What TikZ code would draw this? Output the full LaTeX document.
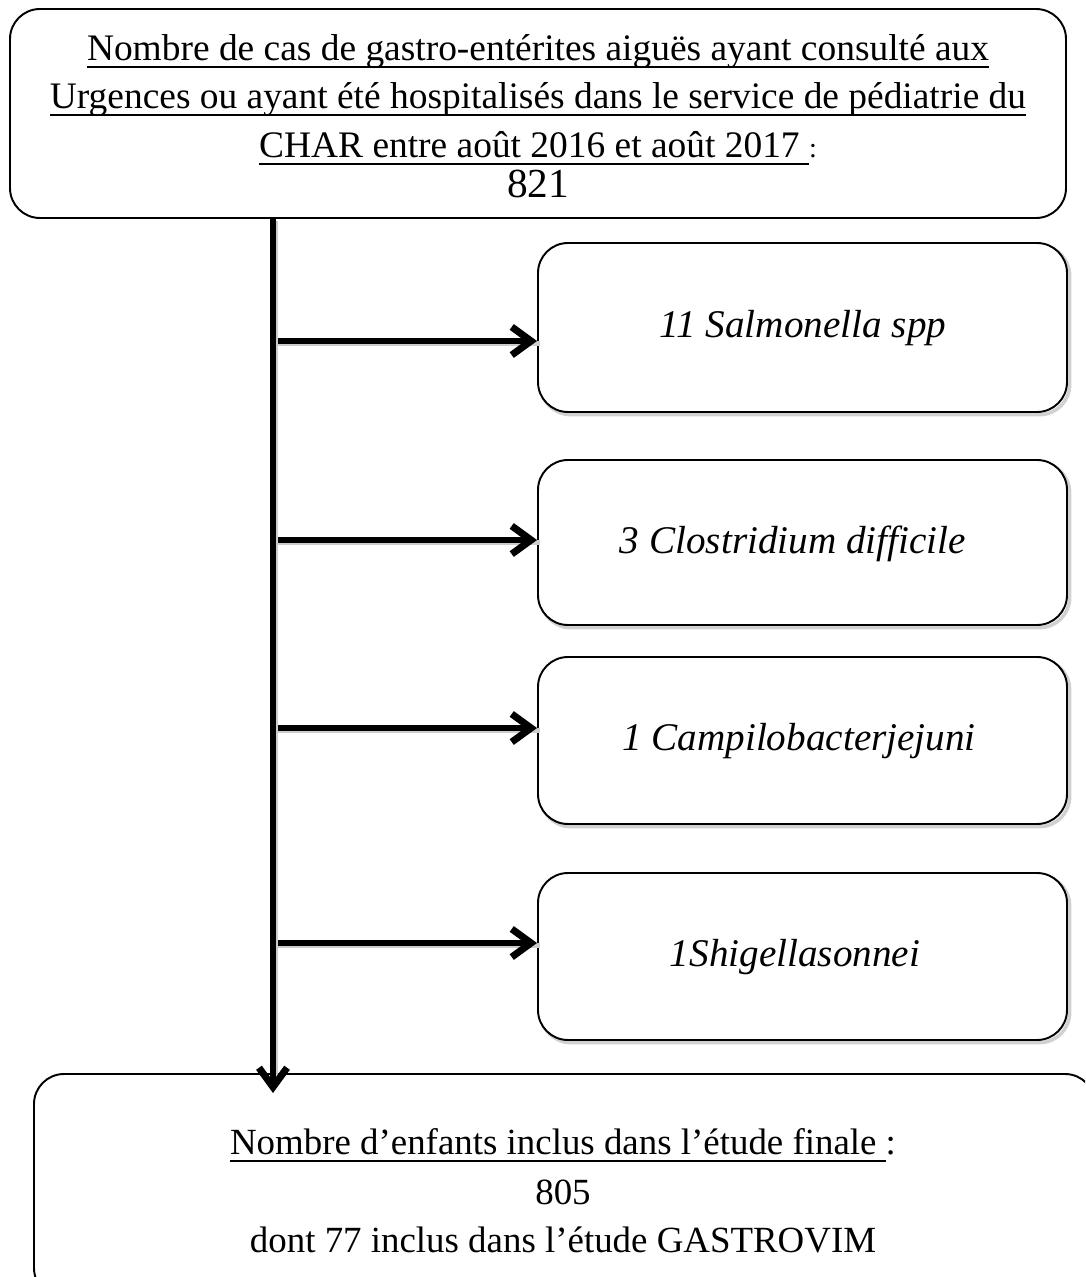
\documentclass[tikz,border=0pt]{standalone}
\usepackage{fontspec}
\setmainfont{Liberation Serif}
\newsavebox{\myulbox}
\newcommand\myul[1]{\sbox{\myulbox}{#1}\rlap{\rule[-4pt]{\wd\myulbox}{1.1pt}}\usebox{\myulbox}}
\usetikzlibrary{arrows.meta,calc}
\begin{document}
\begin{tikzpicture}[x=0.02cm,y=-0.02cm,
  box/.style={draw=black, line width=1.1pt, rounded corners=0.6cm, fill=white, align=center, inner sep=0pt},
  shadowbox/.style={box, preaction={draw=black!18, line width=2pt, transform canvas={shift={(1.5pt,-1.5pt)}}}},
  flow/.style={line width=3pt, -{Straight Barb[length=11pt,width=16pt,line width=1pt 1]}},
  flowsh/.style={draw=black!20, line width=3pt, transform canvas={shift={(1.5pt,-1.5pt)}}},
  txt/.style={font=\fontsize{21.3}{27}\selectfont},
  btxt/.style={font=\fontsize{21}{27}\selectfont},
  itx/.style={font=\fontsize{22.3}{27}\selectfont\itshape}]
\useasboundingbox (0,0) rectangle (1085,1277);
\clip (0,0) rectangle (1085,1277);
% boxes
\node[box, minimum width=1056*0.02cm, minimum height=209*0.02cm] (top) at (538,113.5) {};
\node[shadowbox, minimum width=529*0.02cm, minimum height=169*0.02cm] (b1) at (802.5,327.5) {};
\node[shadowbox, minimum width=529*0.02cm, minimum height=165*0.02cm] (b2) at (802.5,542.5) {};
\node[shadowbox, minimum width=529*0.02cm, minimum height=167*0.02cm] (b3) at (802.5,740.5) {};
\node[shadowbox, minimum width=529*0.02cm, minimum height=167*0.02cm] (b4) at (802.5,956.5) {};
\node[shadowbox, minimum width=1061*0.02cm, minimum height=224*0.02cm] (bot) at (564.5,1186) {};
% texts
\node[txt] (t1) at (538,52) {\myul{Nombre de cas de gastro-entérites aiguës ayant consulté aux}};
\node[txt] (t2) at (538,100) {\myul{Urgences ou ayant été hospitalisés dans le service de pédiatrie du}};
\node[txt] (t3) at (538,148) {\myul{CHAR entre août 2016 et août 2017 }{\fontsize{16}{20}\selectfont :}};
\node[font=\fontsize{23.5}{27}\selectfont] (t4) at (538,184) {821};
\node[itx] (s1) at (803,328) {11 Salmonella spp};
\node[itx] (s2) at (793,544) {3 Clostridium difficile};
\node[itx] (s3) at (799,741) {1 Campilobacterjejuni};
\node[itx] (s4) at (795,957) {1Shigellasonnei};
\node[btxt] (u1) at (563,1145) {\myul{Nombre d’enfants inclus dans l’étude finale }:};
\node[btxt] (u2) at (563,1192) {805};
\node[btxt] (u3) at (563,1240) {dont 77 inclus dans l’étude GASTROVIM};
% connectors
\coordinate (j0) at (273,218);
\coordinate (j1) at (273,341);
\coordinate (j2) at (273,540);
\coordinate (j3) at (273,728);
\coordinate (j4) at (273,943);
\foreach \j/\b in {j1/b1,j2/b2,j3/b3,j4/b4}{
  \draw[flowsh] (\j) -- (\j -| \b.west);
  \draw[flow] (\j) -- (\j -| \b.west);
}
\draw[flowsh] (j0) -- (j0 |- bot.north);
\draw[flow, shorten >=-20*0.02cm] (j0) -- (j0 |- bot.north);
\end{tikzpicture}
\end{document}
